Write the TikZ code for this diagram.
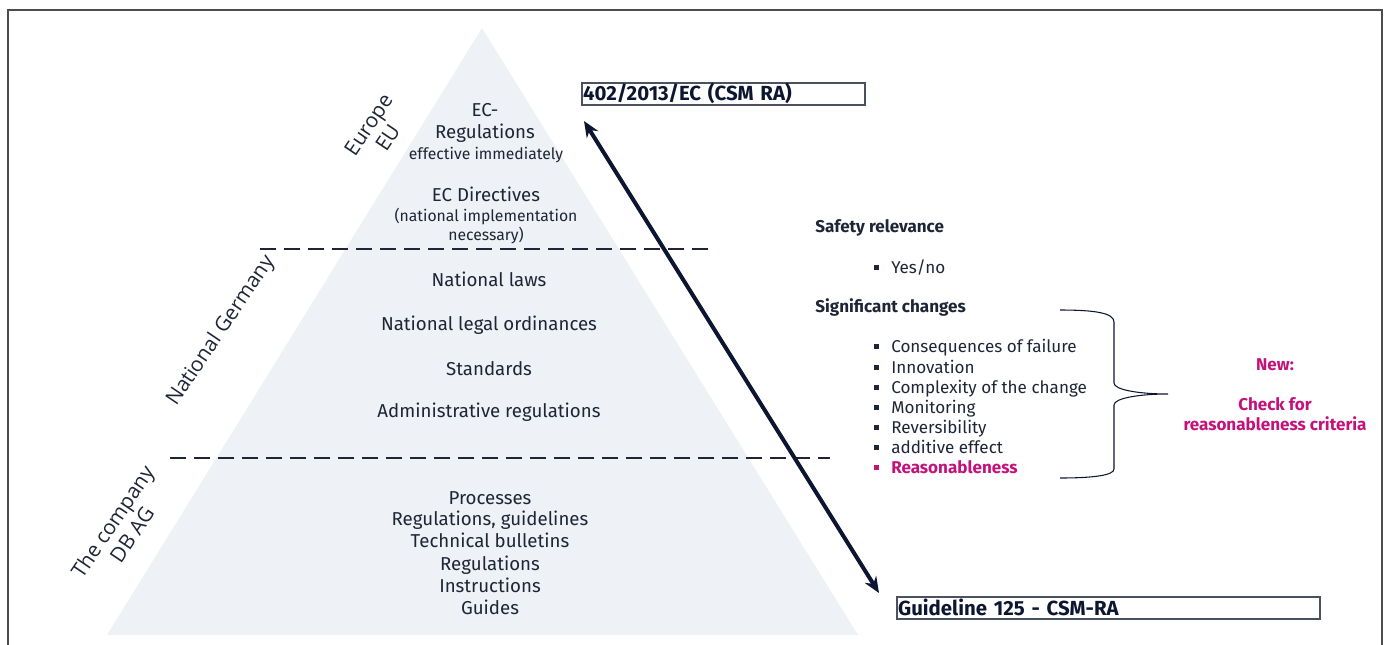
\documentclass[tikz,border=0pt]{standalone}
\usepackage{fontspec}
\setmainfont{Fira Sans}
\newfontfamily\labelfont{Open Sans}
\usetikzlibrary{arrows.meta}

\definecolor{inkc}{HTML}{1E2536}
\definecolor{arrowc}{HTML}{0C1631}
\definecolor{pyrfill}{HTML}{EEF1F5}
\definecolor{magc}{RGB}{196,18,124}
\definecolor{framec}{HTML}{4D4D4D}
\definecolor{boxc}{HTML}{4A5262}

% small square bullet followed by a fixed gap
\newcommand\sqbul{\makebox[12.75pt][l]{\raisebox{0.22em}{\rule{3.6pt}{3.6pt}}}}

\begin{document}
\begin{tikzpicture}[x=0.75pt,y=-0.75pt,
  pyrtext/.style={text=inkc,font=\fontsize{14}{16}\selectfont,anchor=mid,inner sep=0pt},
  pyrsmall/.style={text=inkc,font=\fontsize{11.8}{14}\selectfont,anchor=mid,inner sep=0pt},
  sidelabel/.style={text=inkc,font=\labelfont\fontsize{15.5}{17.5}\selectfont,align=center,rotate=56,inner sep=0pt},
  divider/.style={draw=inkc,line width=1.5pt,dash pattern=on 12pt off 6pt},
  refbox/.style={draw=boxc,line width=1.2pt,anchor=north west,inner xsep=1pt,inner ysep=0pt,
    minimum height=16.5pt,align=left,text=arrowc,font=\bfseries\fontsize{15.3}{16}\selectfont},
  linkarrow/.style={draw=arrowc,line width=3pt,{Stealth[length=12pt,width=10pt]}-{Stealth[length=12pt,width=10pt]}},
  heading/.style={text=inkc,font=\bfseries\fontsize{12.8}{15}\selectfont,anchor=mid west,inner sep=0pt},
  listitem/.style={text=inkc,font=\fontsize{12.8}{15}\selectfont,anchor=mid west,inner sep=0pt},
  newtext/.style={text=magc,font=\bfseries\fontsize{12.8}{15}\selectfont,anchor=mid,inner sep=0pt},
]
\useasboundingbox (0,0) rectangle (1389,644);

% outer frame
\draw[framec,line width=1.5pt] (7.5,700) -- (7.5,9.5) -- (1382,9.5) -- (1382,700);

% pyramid
\fill[pyrfill] (482,28) -- (858,635) -- (107,635) -- cycle;

% level dividers
\draw[divider] (260,249) -- (708,249);
\draw[divider] (170,458) -- (830,458);

% Europe level
\node[pyrtext] (ec) at (485,113) {EC-};
\node[pyrtext] (ecreg) at (485,135) {Regulations};
\node[pyrsmall] (ecimm) at (486,156) {effective immediately};
\node[pyrtext] (ecdir) at (486,198) {EC Directives};
\node[pyrsmall] (ecnat) at (486,218) {(national implementation};
\node[pyrsmall] (ecnec) at (486,237) {necessary)};

% national level
\node[pyrtext] (natlaw) at (489,283) {National laws};
\node[pyrtext] (natord) at (489,327) {National legal ordinances};
\node[pyrtext] (natstd) at (489,372) {Standards};
\node[pyrtext] (natadm) at (489,414) {Administrative regulations};

% company level
\node[pyrtext] (cproc) at (490,501) {Processes};
\node[pyrtext] (cregg) at (490,522) {Regulations, guidelines};
\node[pyrtext] (ctech) at (490,544) {Technical bulletins};
\node[pyrtext] (creg) at (490,567) {Regulations};
\node[pyrtext] (cinst) at (490,589) {Instructions};
\node[pyrtext] (cguide) at (490,611) {Guides};

% rotated level names
\node[sidelabel] (lvleu) at (378,131) {Europe\\EU};
\node[sidelabel] (lvlnat) at (221,331) {National Germany};
\node[sidelabel] (lvldb) at (122,528) {The company\\DB AG};

% reference boxes and the link between them
\node[refbox,minimum width=212.25pt,text width=210.25pt] (csmra) at (581,82) {402/2013/EC (CSM RA)};
\node[refbox,minimum width=317.25pt,text width=315.25pt] (guide) at (896,596) {Guideline 125 - CSM-RA};
\coordinate (linktop) at (584,121);
\coordinate (linkbot) at (879,593);
\draw[linkarrow] (linktop) -- (linkbot);

% criteria
\node[heading] (safety) at (815,229) {Safety relevance};
\node[listitem] (yesno) at (874,270) {\sqbul Yes/no};
\node[heading] (signif) at (815,309) {Significant changes};
\node[listitem] (it1) at (874,349) {\sqbul Consequences of failure};
\node[listitem] (it2) at (874,370) {\sqbul Innovation};
\node[listitem] (it3) at (874,390) {\sqbul Complexity of the change};
\node[listitem] (it4) at (874,410) {\sqbul Monitoring};
\node[listitem] (it5) at (874,430) {\sqbul Reversibility};
\node[listitem] (it6) at (874,450) {\sqbul additive effect};
\node[listitem,text=magc,font=\bfseries\fontsize{12.8}{15}\selectfont] (it7) at (874,470) {\sqbul Reasonableness};

% curly brace grouping the significant-change criteria
\draw[arrowc,line width=0.8pt]
  (1060,310) .. controls (1095,310) and (1114,313) .. (1114,322)
  -- (1114,383) .. controls (1114,390) and (1140,394) .. (1168,394)
  (1168,394) .. controls (1140,394) and (1114,398) .. (1114,405)
  -- (1114,469) .. controls (1114,475) and (1095,478) .. (1060,478);

\node[newtext] (newhd) at (1275,367) {New:};
\node[newtext] (chk1) at (1275,407) {Check for};
\node[newtext] (chk2) at (1275,427) {reasonableness criteria};
\end{tikzpicture}
\end{document}
